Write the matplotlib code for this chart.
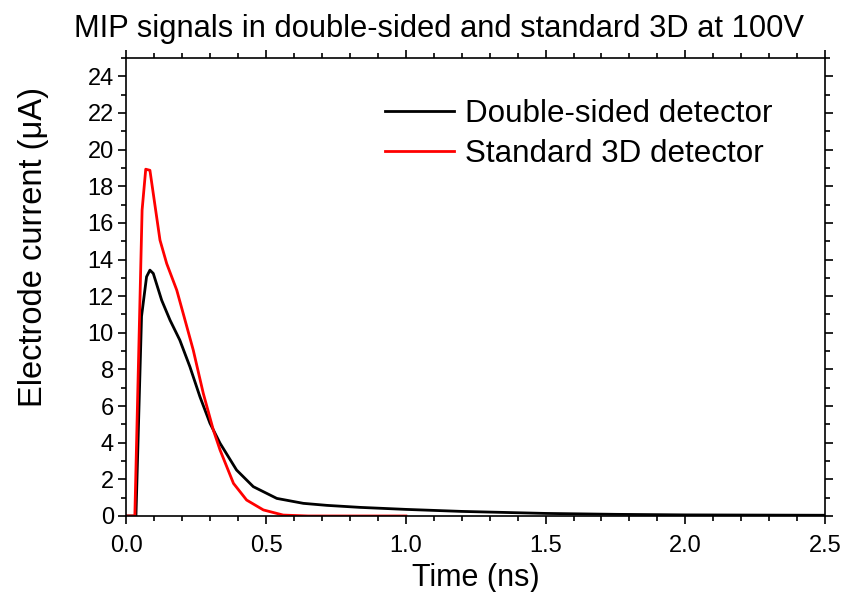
import matplotlib
matplotlib.use("Agg")
import matplotlib.pyplot as plt
from matplotlib.ticker import MultipleLocator

plt.rcParams["font.family"] = ["Liberation Sans", "DejaVu Sans"]

# 双面探测器电流曲线 (ns, μA)
double_t = [0.0, 0.034, 0.054, 0.072, 0.084, 0.096, 0.126, 0.156, 0.191, 0.227,
            0.263, 0.299, 0.335, 0.394, 0.454, 0.538, 0.633, 0.717, 0.836, 1.0,
            1.2, 1.5, 1.75, 2.0, 2.25, 2.5]
double_i = [0.0, 0.0, 10.9, 13.06, 13.42, 13.24, 11.78, 10.69, 9.6, 8.15,
            6.51, 5.06, 3.97, 2.51, 1.6, 0.96, 0.69, 0.58, 0.47, 0.36,
            0.25, 0.14, 0.09, 0.06, 0.05, 0.04]

# 标准3D探测器电流曲线
standard_t = [0.0, 0.030, 0.056, 0.069, 0.084, 0.12, 0.144, 0.18, 0.203, 0.239,
              0.275, 0.311, 0.335, 0.383, 0.43, 0.49, 0.561, 0.65, 0.8, 1.0]
standard_i = [0.0, 0.0, 16.7, 18.93, 18.87, 15.06, 13.78, 12.33, 11.06, 9.06,
              6.69, 4.69, 3.6, 1.78, 0.87, 0.33, 0.05, 0.0, 0.0, 0.0]

fig = plt.figure(figsize=(8.43, 5.92), dpi=100)
ax = fig.add_axes([0.150, 0.1284, 0.8287, 0.7736])

ax.plot(double_t, double_i, color="black", lw=2.0, label="Double-sided detector")
ax.plot(standard_t, standard_i, color="#ff0000", lw=2.0, label="Standard 3D detector")

ax.set_xlim(0, 2.5)
ax.set_ylim(0, 25)
ax.xaxis.set_major_locator(MultipleLocator(0.5))
ax.xaxis.set_minor_locator(MultipleLocator(0.1))
ax.yaxis.set_minor_locator(MultipleLocator(1))
ax.set_yticks(range(0, 25, 2))
ax.xaxis.set_major_formatter(plt.FuncFormatter(lambda v, p: f"{v:.1f}"))

ax.tick_params(which="both", direction="out", top=True, right=True,
               labeltop=False, labelright=False, width=1.2, labelsize=17)
ax.tick_params(which="major", length=6, pad=3)
ax.tick_params(which="minor", length=3.5)
ax.tick_params(axis="x", which="major", pad=8)
for sp in ax.spines.values():
    sp.set_linewidth(1.2)

ax.set_xlabel("Time (ns)", fontsize=22, labelpad=4)
ax.set_ylabel("Electrode current (μA)", fontsize=23.5, labelpad=28, y=0.587)
ax.set_title("MIP signals in double-sided and standard 3D at 100V",
             fontsize=22.2, pad=15, x=0.447)

ax.legend(loc="upper left", bbox_to_anchor=(0.33, 0.972), frameon=False,
          fontsize=22.6, handlelength=2.2, handletextpad=0.35, labelspacing=0.3)

fig.savefig("out.png", dpi=100)
